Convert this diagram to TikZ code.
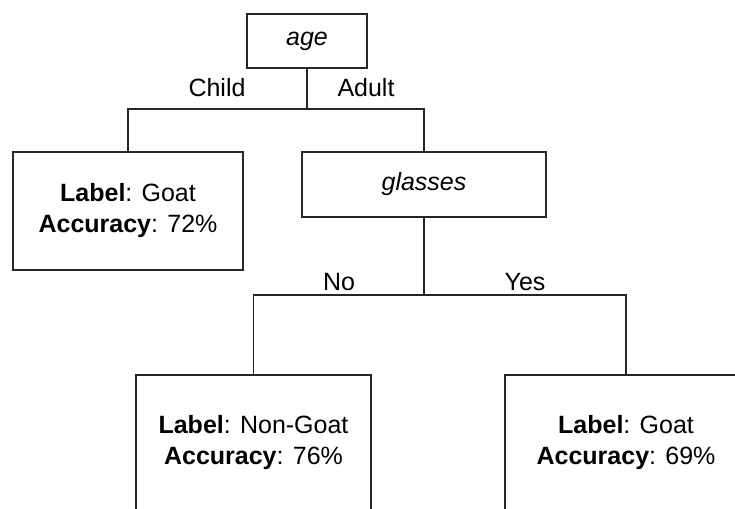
\documentclass[tikz,border=0pt]{standalone}
\usepackage{fontspec}
\setmainfont{Liberation Sans}
\usetikzlibrary{positioning}

\begin{document}
\begin{tikzpicture}[x=1pt,y=-1pt,line width=1.6pt,
    every node/.style={font=\fontsize{25}{31}\selectfont},
    split/.style={draw=black!85,inner sep=0pt,align=center,minimum height=54pt},
    leaf/.style={draw=black!85,inner sep=0pt,align=center,minimum height=118pt},
    branch/.style={inner sep=0pt}]
  \useasboundingbox (0,0) rectangle (735,508);
  \clip (0,0) rectangle (735,508);

  \node[split, minimum width=120pt]                    (age)     at (307,41)    {\textit{age}};
  \node[leaf, minimum width=230pt]                     (goat)    at (128,211)   {\textbf{Label}: Goat\\\textbf{Accuracy}: 72\%};
  \node[split, minimum width=244pt, minimum height=65pt] (glasses) at (424,184.5) {\textit{glasses}};
  \node[leaf, minimum width=235pt, minimum height=136pt] (nongoat) at (253.5,443) {\textbf{Label}: Non-Goat\\\textbf{Accuracy}: 76\%};
  \node[leaf, minimum width=242pt, minimum height=136pt] (goat2)   at (626,443)   {\textbf{Label}: Goat\\\textbf{Accuracy}: 69\%};

  \coordinate (j1) at (age.south |- 0,109);
  \coordinate (j2) at (glasses.south |- 0,295);

  \node[branch] (child) at (217,88)  {Child};
  \node[branch] (adult) at (366,88)  {Adult};
  \node[branch] (no)    at (339,282) {No};
  \node[branch] (yes)   at (525,282) {Yes};

  \draw[black!85] (age.south) -- (j1)
        (goat.north) |- (j1) -| (glasses.north)
        (glasses.south) -- (j2)
        (nongoat.north) |- (j2) -| (goat2.north);
\end{tikzpicture}
\end{document}
